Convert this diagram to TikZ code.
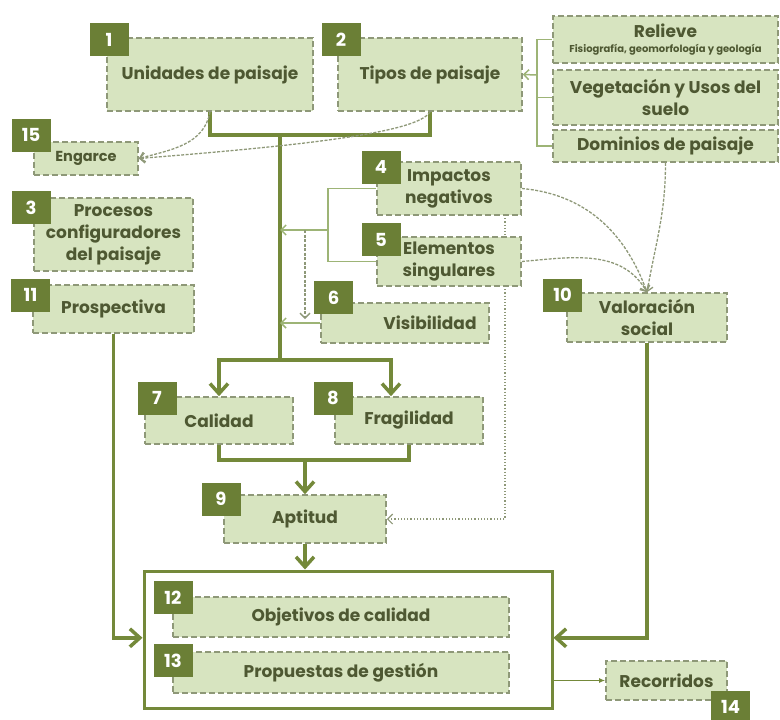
\documentclass[tikz,border=0pt]{standalone}
\usepackage{fontspec}
\setmainfont{Poppins}
\usetikzlibrary{arrows.meta,calc}
\definecolor{boxfill}{HTML}{D7E4C0}
\definecolor{boxline}{HTML}{8E9878}
\definecolor{olive}{HTML}{74893A}
\definecolor{tagfill}{HTML}{6B7F36}
\definecolor{txt}{HTML}{4E5832}
\definecolor{lightline}{HTML}{9DB476}
\tikzset{
	box/.style     = {shape=rectangle, draw=boxline, fill=boxfill,
		dash pattern=on 6pt off 3pt, line width=1.6pt,
		text=txt, font=\bfseries\fontsize{17}{22}\selectfont,
		align=center, inner sep=2pt},
	tag/.style     = {shape=rectangle, fill=tagfill, text=white,
		font=\bfseries\fontsize{18}{18}\selectfont,
		minimum width=39, minimum height=33, inner sep=0pt},
	trunk/.style   = {draw=olive, line width=3.5pt},
	bigarrow/.style = {trunk, -{Straight Barb[length=10pt,width=18pt]}},
	link/.style    = {draw=lightline, line width=1.5pt},
	linkarrow/.style = {link, -{Straight Barb[length=5pt,width=10pt]}},
	influence/.style = {draw=boxline, line width=1.3pt, dash pattern=on 3pt off 1.5pt,
		-{Straight Barb[length=5pt,width=10pt]}},
	hint/.style    = {draw=boxline, line width=1.2pt, dotted}
}

\begin{document}
\begin{tikzpicture}[x=1pt, y=-1pt]
	\useasboundingbox (0,0) rectangle (780,720);
	\node [box, minimum width=206, minimum height=73] at (210,74.5) (unidades) {Unidades de paisaje};
	\node [box, minimum width=184, minimum height=73] at (430,74.5) (tipos) {Tipos de paisaje};
	\node [box, minimum width=225, minimum height=47] at (665.5,39.5) (relieve) {Relieve\\[-7pt]{\fontsize{10}{11}\selectfont Fisiografía, geomorfología y geología}};
	\node [box, minimum width=225, minimum height=55] at (665.5,97.5) (vegetacion) {Vegetación y Usos del\\suelo};
	\node [box, minimum width=225, minimum height=32] at (665.5,146) (dominios) {Dominios de paisaje};
	\node [box, minimum width=104, minimum height=33, font=\bfseries\fontsize{14.5}{16}\selectfont] at (86,158.5) (engarce) {Engarce};
	\node [box, minimum width=159, minimum height=73] at (113.5,234.5) (procesos) {Procesos\\configuradores\\del paisaje};
	\node [box, minimum width=161, minimum height=48] at (113.5,309) (prospectiva) {Prospectiva};
	\node [box, minimum width=144, minimum height=53] at (449,188.5) (impactos) {Impactos\\negativos};
	\node [box, minimum width=144, minimum height=49] at (449,261.5) (elementos) {Elementos\\singulares};
	\node [box, minimum width=168, minimum height=40] at (405,323) (visibilidad) {\hspace*{50pt}Visibilidad};
	\node [box, minimum width=160, minimum height=49] at (647,317.5) (valoracion) {Valoración\\social};
	\node [box, minimum width=148, minimum height=47] at (219,420.5) (calidad) {Calidad};
	\node [box, minimum width=148, minimum height=47] at (409,420.5) (fragilidad) {Fragilidad};
	\node [box, minimum width=162, minimum height=48] at (305,519) (aptitud) {Aptitud};
	\node [trunk, line width=3pt, minimum width=408, minimum height=137] at (348,639.5) (gestion) {};
	\node [box, minimum width=336, minimum height=40] at (341,617) (objetivos) {Objetivos de calidad};
	\node [box, minimum width=336, minimum height=41] at (341,672.5) (propuestas) {Propuestas de gestión};
	\node [box, minimum width=121, minimum height=39] at (666.5,680.5) (recorridos) {Recorridos};

	\node [tag] at (109,39.5) (t1) {1};
	\node [tag] at (341,39.5) (t2) {2};
	\node [tag] at (31,135) (t15) {15};
	\node [tag] at (31,207.5) (t3) {3};
	\node [tag] at (30.5,295) (t11) {11};
	\node [tag] at (381,167.5) (t4) {4};
	\node [tag] at (381,239.5) (t5) {5};
	\node [tag] at (333.5,297.5) (t6) {6};
	\node [tag] at (562.5,295) (t10) {10};
	\node [tag] at (157,398) (t7) {7};
	\node [tag] at (333,398) (t8) {8};
	\node [tag] at (221,499) (t9) {9};
	\node [tag] at (173,597.5) (t12) {12};
	\node [tag] at (173,660.5) (t13) {13};
	\node [tag] at (730.5,707) (t14) {14};

	\coordinate (join) at (280,135);
	\coordinate (split) at (280,360);
	\coordinate (merge) at (305,460);
	\coordinate (fork45) at (328,230);
	\coordinate (drop6) at (305,230);
	\coordinate (fork) at (537,75);
	\coordinate (from4) at (505,215);
	\coordinate (from5) at (505,286);

	\draw [trunk] (unidades.south) |- (join) -| (tipos.south);
	\draw [trunk] (join) -- (split);
	\draw [bigarrow] (split) -| (calidad.north);
	\draw [bigarrow] (split) -| ($(fragilidad.north)+(-18,0)$);
	\draw [trunk] (calidad.south) |- (merge) -| (fragilidad.south);
	\draw [bigarrow] (merge) -- (aptitud.north);
	\draw [bigarrow] (aptitud.south) -- (aptitud.south |- gestion.north);
	\draw [bigarrow] (prospectiva.south) |- (objetivos.south -| gestion.west);
	\draw [bigarrow] (valoracion.south) |- (objetivos.south -| gestion.east);
	\draw [draw=olive, line width=1.5pt, -{Latex[length=6pt,width=5pt]}] (recorridos.west -| gestion.east) -- (recorridos.west);

	\draw [link] (relieve.west) -| (fork) |- (dominios.west);
	\draw [link] (vegetacion.west) -- (vegetacion.west -| fork);
	\draw [linkarrow] (fork) -- (tipos.east);

	\draw [link] (impactos.west) -| (fork45) |- (elementos.west);
	\draw [linkarrow] (fork45) -- (fork45 -| split);
	\draw [influence] (drop6) -- ($(drop6 |- visibilidad.west)+(0,-4)$);
	\draw [linkarrow] (visibilidad.west) -- (visibilidad.west -| split);

	\draw [influence] (unidades.south) to[out=-100, in=15] (engarce.east);
	\draw [influence] (tipos.south) .. controls ($(tipos.south)+(-12,22)$) and ($(engarce.east)+(150,-12)$) .. (engarce.east);
	\draw [influence] (impactos.east) to[out=-5, in=110] (valoracion.north);
	\draw [influence] (elementos.east) to[out=5, in=120] (valoracion.north);
	\draw [influence] (dominios.south) to[out=-90, in=80] (valoracion.north);

	\draw [hint] (from4) -- (from4 |- elementos.north);
	\draw [hint, -{Straight Barb[length=5pt,width=10pt]}] (from5) |- (aptitud.east);
\end{tikzpicture}
\end{document}
